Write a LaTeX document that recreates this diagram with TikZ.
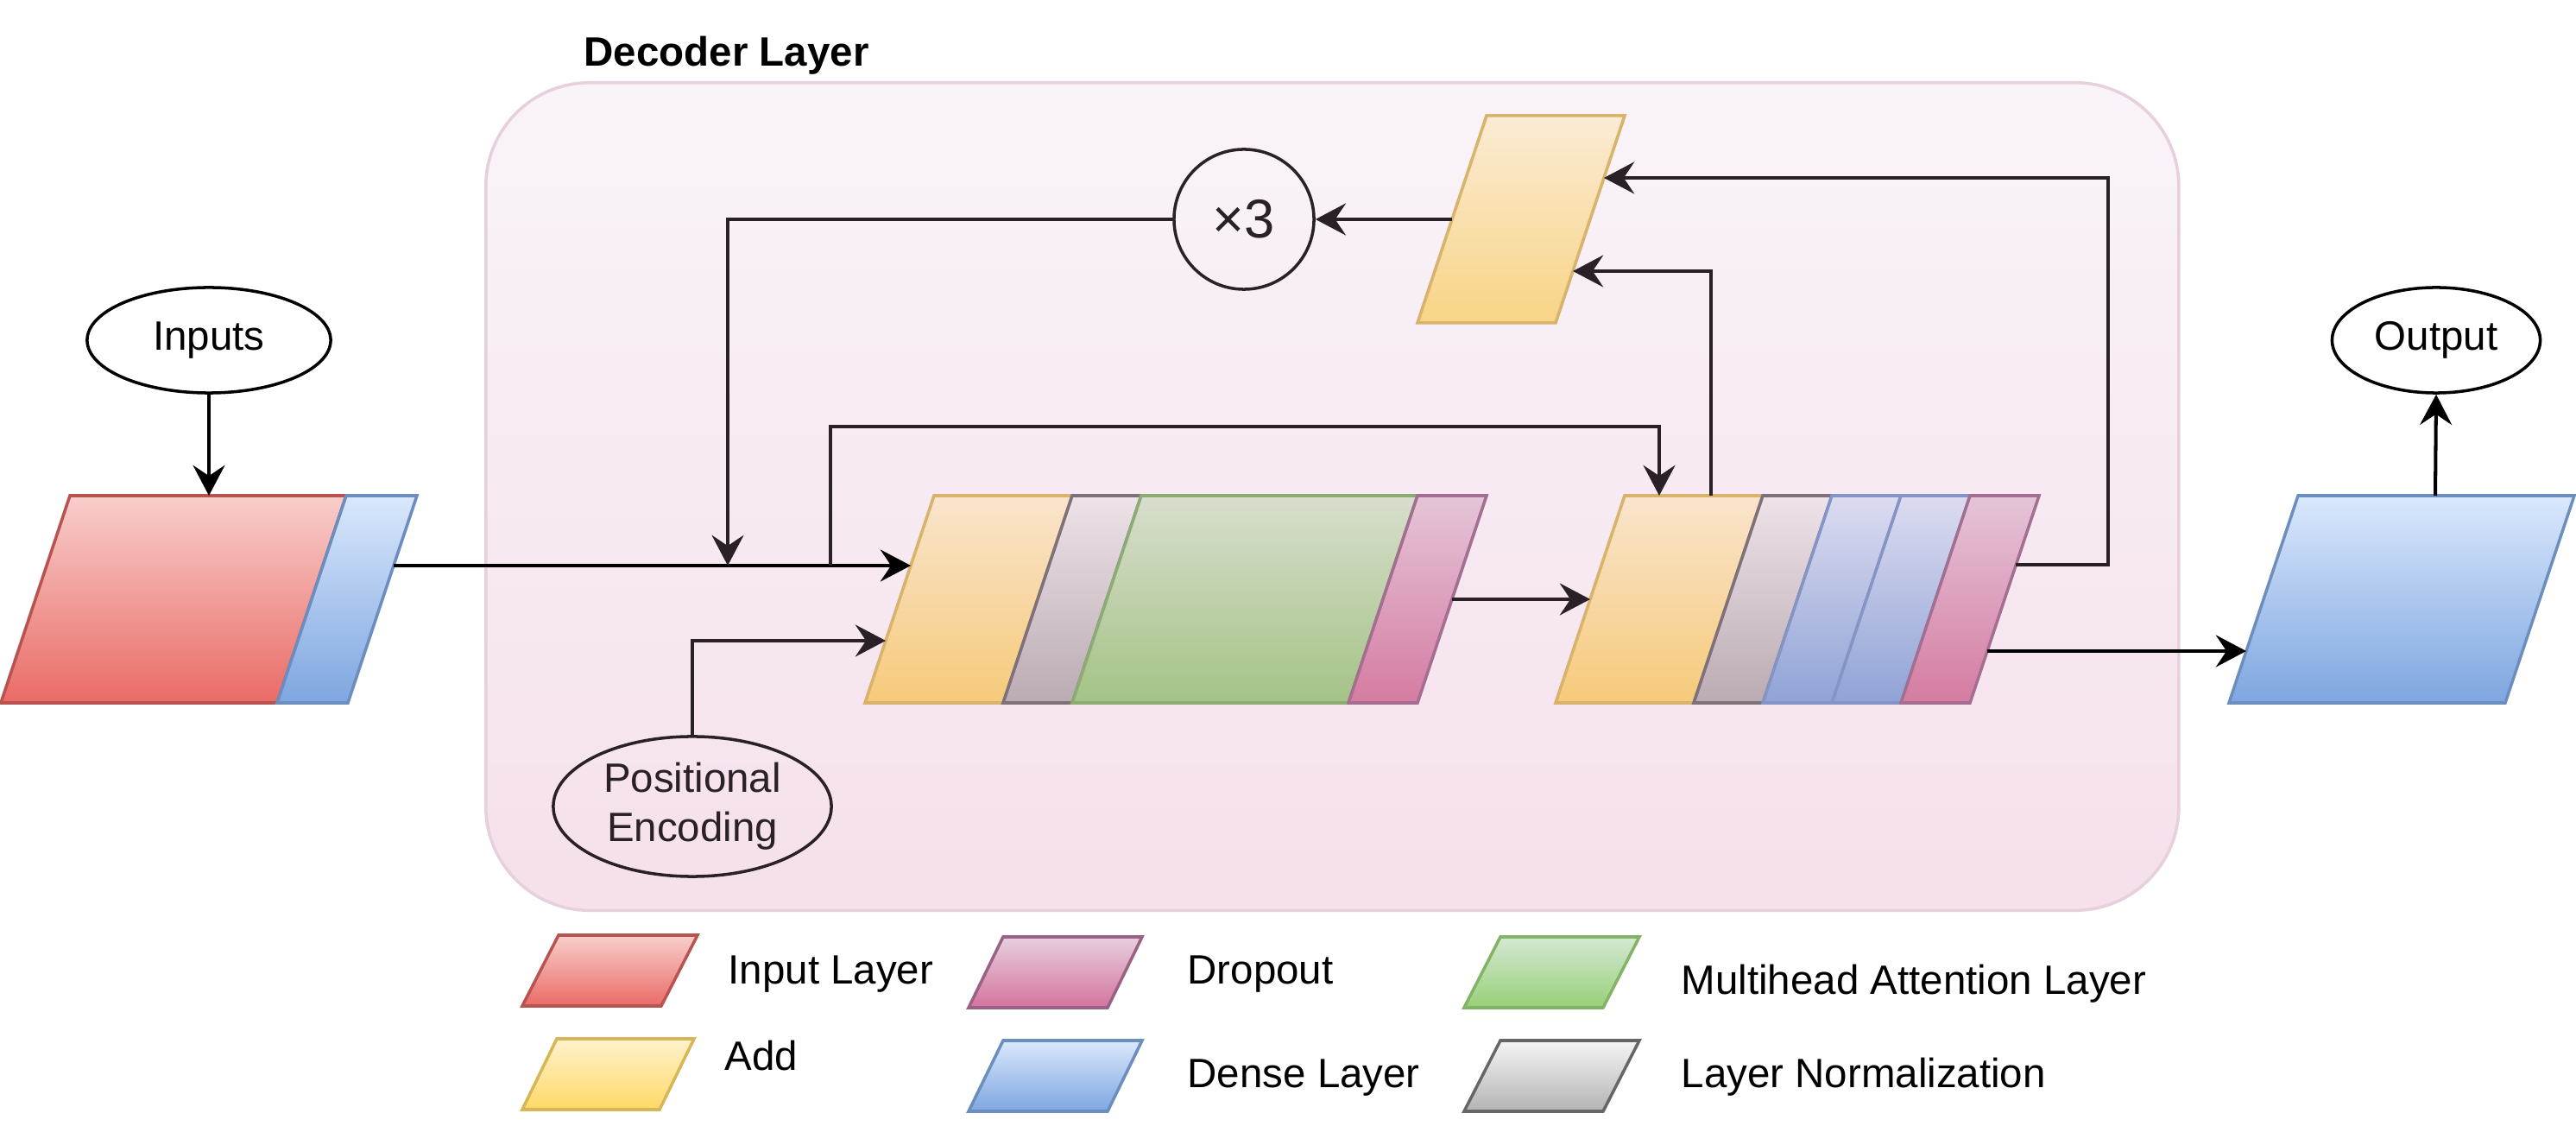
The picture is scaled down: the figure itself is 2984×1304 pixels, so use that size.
\documentclass[tikz,border=0pt]{standalone}
\usepackage{fontspec}
\setmainfont{Liberation Sans}
\usetikzlibrary{arrows.meta,shapes.geometric}
\definecolor{contT}{HTML}{F9F4F9}
\definecolor{contBt}{HTML}{F5E0EB}
\definecolor{contS}{HTML}{E6D0DE}
\definecolor{inkd}{HTML}{2A2126}
% legend / outside colours
\definecolor{redT}{HTML}{F8CECC}\definecolor{redB}{HTML}{EA6B66}\definecolor{redS}{HTML}{B85450}
\definecolor{yelT}{HTML}{FFF2CC}\definecolor{yelB}{HTML}{FFD966}\definecolor{yelS}{HTML}{D6B656}
\definecolor{pnkT}{HTML}{E6D0DE}\definecolor{pnkB}{HTML}{D5739D}\definecolor{pnkS}{HTML}{996185}
\definecolor{bluT}{HTML}{DAE8FC}\definecolor{bluB}{HTML}{7EA6E0}\definecolor{bluS}{HTML}{6C8EBF}
\definecolor{grnT}{HTML}{D5E8D4}\definecolor{grnB}{HTML}{97D077}\definecolor{grnS}{HTML}{82B366}
\definecolor{gryT}{HTML}{F5F5F5}\definecolor{gryB}{HTML}{B3B3B3}\definecolor{gryS}{HTML}{666666}
% inside-container colours
\definecolor{iaddT}{HTML}{F9E4CC}\definecolor{iaddB}{HTML}{F6CA7A}\definecolor{iaddS}{HTML}{D8B36C}
\definecolor{ilnT}{HTML}{EDE3E8}\definecolor{ilnB}{HTML}{BBABB3}\definecolor{ilnS}{HTML}{7E7179}
\definecolor{imhaT}{HTML}{D8DECD}\definecolor{imhaB}{HTML}{A4C386}\definecolor{imhaS}{HTML}{8CAC74}
\definecolor{idrT}{HTML}{E5C5D8}\definecolor{idrB}{HTML}{D57CA1}\definecolor{idrS}{HTML}{A36E92}
\definecolor{idnT}{HTML}{DCDCF0}\definecolor{idnB}{HTML}{90A3D6}\definecolor{idnS}{HTML}{8494C4}
\definecolor{iad3T}{HTML}{FBEBD4}\definecolor{iad3B}{HTML}{F8D486}
% parallelogram: style, bottom-left x, bottom y, width, height, skew
\newcommand\pgram[6]{\path[#1] (#2,#3) -- ++(#4,0) -- ++(#6,-#5) -- ++(-#4,0) -- cycle;}
\begin{document}
\begin{tikzpicture}[x=0.01cm,y=-0.01cm,
  font=\fontsize{13.5}{16.8}\selectfont,
  shp/.style={line width=1pt,line join=miter},
  pred/.style={shp,draw=redS,top color=redT,bottom color=redB},
  pyel/.style={shp,draw=yelS,top color=yelT,bottom color=yelB},
  ppnk/.style={shp,draw=pnkS,top color=pnkT,bottom color=pnkB},
  pblu/.style={shp,draw=bluS,top color=bluT,bottom color=bluB},
  pgrn/.style={shp,draw=grnS,top color=grnT,bottom color=grnB},
  pgry/.style={shp,draw=gryS,top color=gryT,bottom color=gryB},
  iadd/.style={shp,draw=iaddS,top color=iaddT,bottom color=iaddB},
  iadd3/.style={shp,draw=iaddS,top color=iad3T,bottom color=iad3B},
  iln/.style={shp,draw=ilnS,top color=ilnT,bottom color=ilnB},
  imha/.style={shp,draw=imhaS,top color=imhaT,bottom color=imhaB},
  idr/.style={shp,draw=idrS,top color=idrT,bottom color=idrB},
  idn/.style={shp,draw=idnS,top color=idnT,bottom color=idnB},
  oval/.style={ellipse,draw,line width=1pt,inner sep=0pt},
  arr/.style={line width=1.15pt,-{Stealth[length=10pt,width=10.5pt,inset=3.5pt]}},
  arrd/.style={arr,draw=inkd},
  legtxt/.style={anchor=base west,inner sep=0pt}]
\useasboundingbox (0,0) rectangle (2984,1304);

% container
\node[draw=contS,line width=1pt,top color=contT,bottom color=contBt,rounded corners=1.2cm,
  minimum width=19.6cm,minimum height=9.58cm,anchor=north west,inner sep=0pt] (decoder) at (561,94) {};
\node[anchor=base west,inner sep=0pt,font=\fontsize{13.5}{16.8}\selectfont\bfseries] (title) at (676,77) {Decoder Layer};

% input layer
\pgram{pred}{1}{814}{320}{240}{80}
\pgram{pblu}{321}{814}{82}{240}{80}

% block 1
\pgram{iadd}{1002}{814}{160}{240}{80}
\pgram{iln}{1162}{814}{80}{240}{80}
\pgram{imha}{1242}{814}{320}{240}{80}
\pgram{idr}{1562}{814}{80}{240}{80}

% block 2
\pgram{iadd}{1802}{814}{160}{240}{80}
\pgram{iln}{1962}{814}{80}{240}{80}
\pgram{idn}{2042}{814}{80}{240}{80}
\pgram{idn}{2122}{814}{80}{240}{80}
\pgram{idr}{2202}{814}{80}{240}{80}

% add 3
\pgram{iadd3}{1642}{374}{160}{240}{80}

% output dense
\pgram{pblu}{2582}{814}{320}{240}{80}

% ellipses
\node[oval,minimum width=2.82cm,minimum height=1.22cm] (inputs) at (242,394) {Inputs};
\node[oval,minimum width=2.41cm,minimum height=1.22cm] (output) at (2822,394) {Output};
\node[circle,draw=inkd,line width=1pt,minimum size=1.62cm,inner sep=0pt,text=inkd,
  font=\fontsize{18}{20}\selectfont] (times) at (1441,254) {×3};
\node[ellipse,draw=inkd,line width=1pt,inner sep=0pt,minimum width=3.22cm,minimum height=1.62cm,
  text=inkd,align=center,font=\fontsize{13.5}{16.2}\selectfont] (posenc) at (802,934) {Positional\\Encoding};

% connection points
\coordinate (redTop) at (242,574);
\coordinate (blueOut) at (456,655);
\coordinate (add1In) at (1055,655);
\coordinate (add1InB) at (1026,742);
\coordinate (j1) at (843,655);
\coordinate (j2) at (962,655);
\coordinate (j2up) at (962,494);
\coordinate (add2Top) at (1922,574);
\coordinate (add2TopOut) at (1982,574);
\coordinate (drop1Out) at (1682,694);
\coordinate (add2In) at (1842,694);
\coordinate (add3InA) at (1858,206);
\coordinate (add3InB) at (1822,314);
\coordinate (add3Out) at (1682,254);
\coordinate (drop2OutA) at (2335,654);
\coordinate (rc) at (2442,206);
\coordinate (drop2OutB) at (2302,754);
\coordinate (denseIn) at (2602,754);
\coordinate (denseTop) at (2821,574);

% connectors
\draw[arr] (inputs.south) -- (redTop);
\draw[arr] (blueOut) -- (add1In);
\draw[arrd] (times.west) -| (j1);
\draw[arrd] (j2) -- (j2up) -| (add2Top);
\draw[arrd] (posenc.north) |- (add1InB);
\draw[arrd] (drop1Out) -- (add2In);
\draw[arrd] (add2TopOut) |- (add3InB);
\draw[arrd] (drop2OutA) -| (rc) -- (add3InA);
\draw[arrd] (add3Out) -- (times.east);
\draw[arr] (drop2OutB) -- (denseIn);
\draw[arr] (denseTop) -- (output.south);

% legend
\pgram{pred}{605}{1165}{161}{82}{42}
\pgram{pyel}{605}{1285}{159}{82}{40}
\pgram{ppnk}{1122}{1167}{161}{82}{40}
\pgram{pblu}{1122}{1287}{161}{82}{40}
\pgram{pgrn}{1696}{1167}{161}{82}{42}
\pgram{pgry}{1696}{1287}{161}{82}{42}
\node[legtxt] (lInput) at (843,1140) {Input Layer};
\node[legtxt] (lAdd) at (839,1240) {Add};
\node[legtxt] (lDrop) at (1375,1140) {Dropout};
\node[legtxt] (lDense) at (1375,1260) {Dense Layer};
\node[legtxt] (lMha) at (1947,1152) {Multihead Attention Layer};
\node[legtxt] (lLn) at (1947,1259) {Layer Normalization};
\end{tikzpicture}
\end{document}
